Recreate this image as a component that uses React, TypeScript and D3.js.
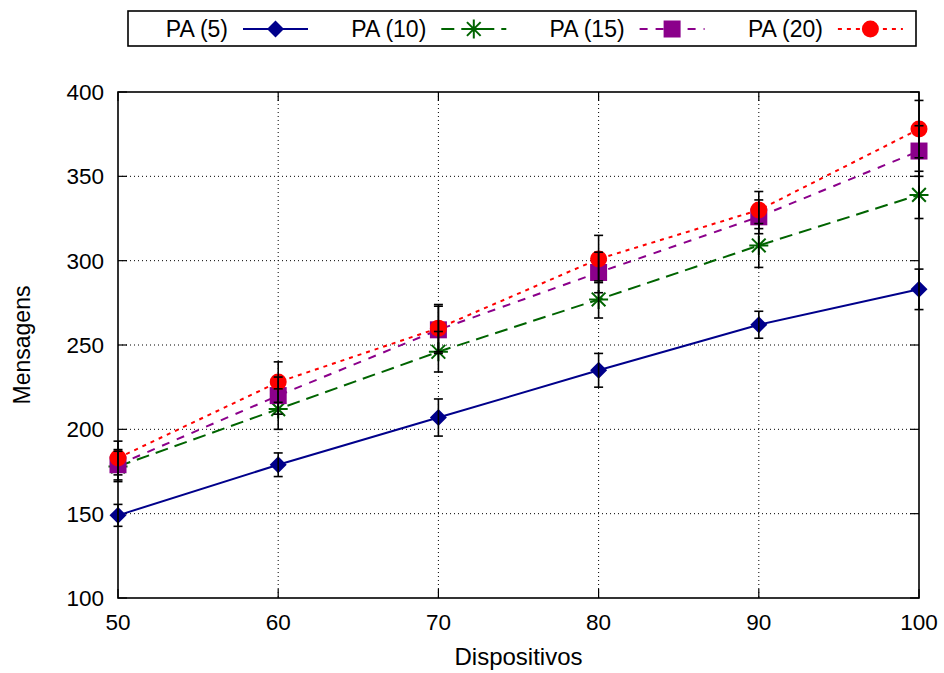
import React from "react";
import * as d3 from "d3";

const categories = [50, 60, 70, 80, 90, 100];
const pa5 = [149, 179, 207, 235, 262, 283];
const pa5Err = [6.5, 7, 11, 10, 8, 12];
const pa10 = [178, 212, 246, 277, 309, 339];
const pa10Err = [9, 12, 12, 11, 13, 14];
const pa15 = [179, 220, 259, 293, 326, 365];
const pa15Err = [9, 11, 14, 12, 10, 15];
const pa20 = [183, 228, 260, 301, 330, 378];
const pa20Err = [10, 12, 14, 14, 11, 17];
const seriesNames = ["PA (5)", "PA (10)", "PA (15)", "PA (20)"];
const xTicks = [50, 60, 70, 80, 90, 100];
const yTicks = [100, 150, 200, 250, 300, 350, 400];

const W = 944, H = 673;
const L = 118, R = 919, T = 92, B = 598;
const FONT = "'Liberation Sans', Arial, sans-serif";

const styles = [
  { color: "#00008b", dash: "none", marker: "diamond" },
  { color: "#006400", dash: "13,7", marker: "star" },
  { color: "#8b008b", dash: "8,8", marker: "square" },
  { color: "#ff0000", dash: "4,5", marker: "circle" },
];

function Marker({ type, x, y, color }: { type: string; x: number; y: number; color: string }) {
  if (type === "diamond") {
    const s = 8.5;
    return <path d={`M${x},${y - s}L${x + s},${y}L${x},${y + s}L${x - s},${y}Z`} fill={color} />;
  }
  if (type === "square") {
    const s = 8.5;
    return <rect x={x - s} y={y - s} width={2 * s} height={2 * s} fill={color} />;
  }
  if (type === "circle") {
    return <circle cx={x} cy={y} r={8.5} fill={color} />;
  }
  const s = 9.5;
  const d = s * 0.72;
  return (
    <path
      d={`M${x - s},${y}L${x + s},${y}M${x},${y - s}L${x},${y + s}M${x - d},${y - d}L${x + d},${y + d}M${x - d},${y + d}L${x + d},${y - d}`}
      stroke={color}
      strokeWidth={2}
      fill="none"
    />
  );
}

export default function App() {
  const x = d3.scaleLinear().domain([50, 100]).range([L, R]);
  const y = d3.scaleLinear().domain([100, 400]).range([B, T]);
  const data = [pa5, pa10, pa15, pa20];
  const errs = [pa5Err, pa10Err, pa15Err, pa20Err];
  const line = d3
    .line<number>()
    .x((_, i) => x(categories[i]))
    .y((d) => y(d));

  return (
    <svg width={W} height={H} style={{ position: "absolute", left: 0, top: 0, background: "#fff" }}>
      <rect x={0} y={0} width={W} height={H} fill="#fff" />
      {/* grid */}
      {yTicks.slice(1, -1).map((t) => (
        <line key={"gy" + t} x1={L} x2={R} y1={y(t)} y2={y(t)} stroke="#000" strokeWidth={1} strokeDasharray="1,3" />
      ))}
      {xTicks.slice(1, -1).map((t) => (
        <line key={"gx" + t} x1={x(t)} x2={x(t)} y1={T} y2={B} stroke="#000" strokeWidth={1} strokeDasharray="1,3" />
      ))}
      {/* ticks */}
      {yTicks.map((t) => (
        <g key={"ty" + t}>
          <line x1={L} x2={L + 9} y1={y(t)} y2={y(t)} stroke="#000" strokeWidth={1.2} />
          <line x1={R} x2={R - 9} y1={y(t)} y2={y(t)} stroke="#000" strokeWidth={1.2} />
          <text x={104} y={y(t) + 8} textAnchor="end" fontFamily={FONT} fontSize={22.5} fill="#000">
            {t}
          </text>
        </g>
      ))}
      {xTicks.map((t) => (
        <g key={"tx" + t}>
          <line x1={x(t)} x2={x(t)} y1={B} y2={B - 9} stroke="#000" strokeWidth={1.2} />
          <line x1={x(t)} x2={x(t)} y1={T} y2={T + 9} stroke="#000" strokeWidth={1.2} />
          <text x={x(t)} y={630} textAnchor="middle" fontFamily={FONT} fontSize={22.5} fill="#000">
            {t}
          </text>
        </g>
      ))}
      {/* lines */}
      {data.map((d, si) => (
        <path
          key={"l" + si}
          d={line(d) || ""}
          fill="none"
          stroke={styles[si].color}
          strokeWidth={2}
          strokeDasharray={styles[si].dash}
        />
      ))}
      {/* markers */}
      {data.map((d, si) =>
        d.map((v, i) => (
          <Marker key={"m" + si + "-" + i} type={styles[si].marker} x={x(categories[i])} y={y(v)} color={styles[si].color} />
        ))
      )}
      {/* error bars */}
      {data.map((d, si) =>
        d.map((v, i) => {
          const cx = x(categories[i]);
          const y1 = y(v + errs[si][i]);
          const y2 = y(v - errs[si][i]);
          return (
            <g key={"e" + si + "-" + i} stroke="#000" strokeWidth={1.6}>
              <line x1={cx} x2={cx} y1={y1} y2={y2} />
              <line x1={cx - 4.5} x2={cx + 4.5} y1={y1} y2={y1} />
              <line x1={cx - 4.5} x2={cx + 4.5} y1={y2} y2={y2} />
            </g>
          );
        })
      )}
      {/* frame */}
      <rect x={L} y={T} width={R - L} height={B - T} fill="none" stroke="#000" strokeWidth={1.6} />
      {/* axis labels */}
      <text x={(L + R) / 2} y={665} textAnchor="middle" fontFamily={FONT} fontSize={24} fill="#000">
        Dispositivos
      </text>
      <text
        transform={`translate(30,${(T + B) / 2}) rotate(-90)`}
        textAnchor="middle"
        fontFamily={FONT}
        fontSize={23}
        fill="#000"
      >
        Mensagens
      </text>
      {/* legend */}
      <rect x={128} y={11} width={788} height={35} fill="#fff" stroke="#000" strokeWidth={1.6} />
      {seriesNames.map((n, i) => {
        const te = 228 + i * 198.3;
        const x1 = te + 15;
        const x2 = te + 80;
        const ly = 29;
        return (
          <g key={"lg" + i}>
            <text x={te} y={ly + 8} textAnchor="end" fontFamily={FONT} fontSize={23} fill="#000">
              {n}
            </text>
            <line x1={x1} x2={x2} y1={ly} y2={ly} stroke={styles[i].color} strokeWidth={2} strokeDasharray={styles[i].dash} />
            <Marker type={styles[i].marker} x={(x1 + x2) / 2} y={ly} color={styles[i].color} />
          </g>
        );
      })}
    </svg>
  );
}
